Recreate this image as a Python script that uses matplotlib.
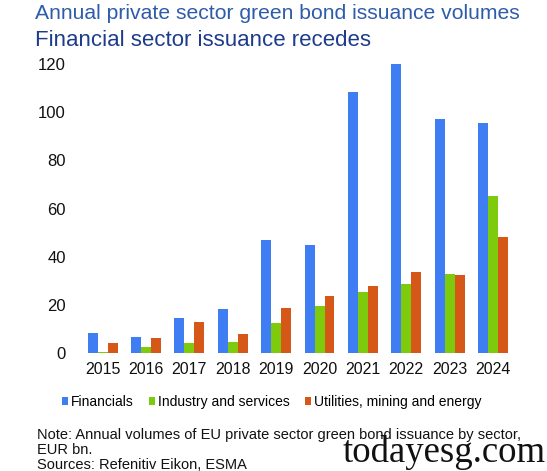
import numpy as np
import matplotlib
matplotlib.use("Agg")
import matplotlib.pyplot as plt

plt.rcParams['font.family'] = ['Liberation Sans', 'DejaVu Sans']

# values (EUR bn)
years = ['2015', '2016', '2017', '2018', '2019', '2020', '2021', '2022', '2023', '2024']
financials = [8.6, 6.9, 14.8, 18.5, 47.0, 44.8, 108.4, 120.0, 97.0, 95.4]
industry = [0.7, 2.5, 4.1, 4.8, 12.6, 19.4, 25.6, 28.8, 32.9, 65.4]
utilities = [4.3, 6.5, 13.0, 8.0, 18.9, 23.9, 27.9, 33.7, 32.4, 48.4]
series_names = ['Financials', 'Industry and services', 'Utilities, mining and energy']
colors = ['#3F7EF2', '#7DCB0C', '#D65818']

fig = plt.figure(figsize=(5.47, 4.71), dpi=100)
ax = fig.add_axes([0.148, 0.25, 0.793, 0.614])

x = np.arange(len(years))
w = 0.23
for i, (vals, name, c) in enumerate(zip([financials, industry, utilities], series_names, colors)):
    ax.bar(x + (i - 1) * w, vals, width=w, color=c, label=name, clip_on=False)

ax.set_xlim(-0.5, len(years) - 0.5)
ax.set_ylim(0, 120)
ax.set_yticks(np.arange(0, 121, 20))
ax.set_xticks(x)
ax.set_xticklabels(years)
for s in ax.spines.values():
    s.set_visible(False)
ax.tick_params(length=0, colors='#111111')
ax.tick_params(axis='y', pad=11, labelsize=12)
ax.tick_params(axis='x', pad=6, labelsize=11.5)

ax.legend(loc='upper center', bbox_to_anchor=(0.44, -0.125), ncol=3, frameon=False,
          fontsize=10, handlelength=0.45, handleheight=0.45, handletextpad=0.2,
          columnspacing=1.1, borderaxespad=0)

fig.text(0.064, 0.972, 'Annual private sector green bond issuance volumes',
         fontsize=15.2, color='#2E5CAA', va='center')
fig.text(0.064, 0.915, 'Financial sector issuance recedes',
         fontsize=16, color='#1E3C8C', va='center')

fig.text(0.068, 0.092, 'Note: Annual volumes of EU private sector green bond issuance by sector,\nEUR bn.\nSources: Refenitiv Eikon, ESMA',
         fontsize=10.5, color='#111111', va='top', linespacing=1.1)
fig.text(0.627, 0.019, 'todayesg.com', fontsize=26.5, family='Liberation Serif',
         color='#111111', va='baseline')

fig.savefig('out.png', dpi=100)
